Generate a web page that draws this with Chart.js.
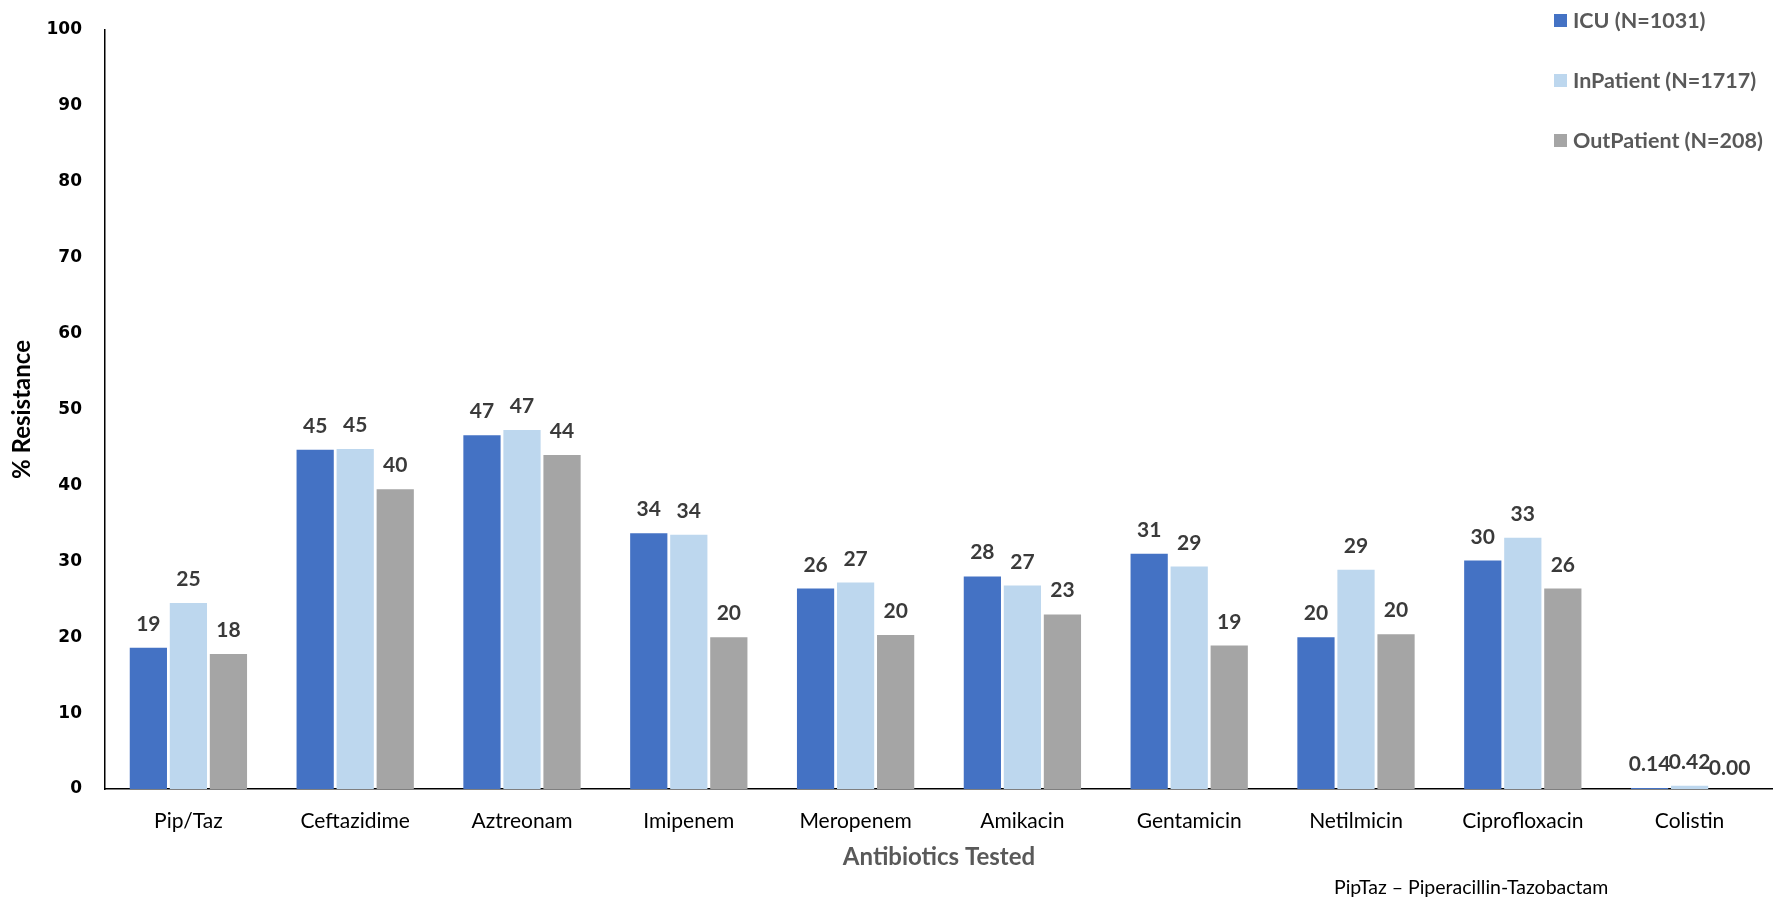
<!DOCTYPE html>
<html>
<head>
<meta charset="utf-8">
<script src="https://cdn.jsdelivr.net/npm/chart.js@4/dist/chart.umd.min.js"></script>
<style>
  html, body { margin: 0; padding: 0; background: #fff; }
  #wrap { position: relative; width: 1773px; height: 899px; }
  canvas { position: absolute; left: 0; top: 0; }
  #legend { position: absolute; left: 1554px; top: 6px; font-family: Lato, "Open Sans", sans-serif; font-weight: bold; font-size: 21.5px; color: #595959; }
  .li { display: flex; align-items: center; height: 28px; margin-bottom: 32px; white-space: nowrap; }
  .sw { width: 13px; height: 13px; margin-right: 6px; display: inline-block; }
  #note { position: absolute; left: 1334px; top: 875px; font-family: Lato, "Open Sans", sans-serif; font-size: 19.5px; color: #000; white-space: nowrap; }
</style>
</head>
<body>
<div id="wrap">
  <canvas id="c" width="1773" height="899"></canvas>
  <div id="legend"></div>
  <div id="note">PipTaz – Piperacillin-Tazobactam</div>
</div>
<script>
const categories = ["Pip/Taz", "Ceftazidime", "Aztreonam", "Imipenem", "Meropenem", "Amikacin", "Gentamicin", "Netilmicin", "Ciprofloxacin", "Colistin"];
const seriesNames = ["ICU (N=1031)", "InPatient (N=1717)", "OutPatient (N=208)"];
const icuValues = [18.6, 44.7, 46.6, 33.7, 26.4, 28.0, 31.0, 20.0, 30.1, 0.14];
const inpatientValues = [24.5, 44.8, 47.3, 33.5, 27.2, 26.8, 29.3, 28.9, 33.1, 0.42];
const outpatientValues = [17.8, 39.5, 44.0, 20.0, 20.3, 23.0, 18.9, 20.4, 26.4, 0.00];
const yTicks = [0, 10, 20, 30, 40, 50, 60, 70, 80, 90, 100];
const colors = ["#4472C4", "#BDD7EE", "#A5A5A5"];

const legendEl = document.getElementById('legend');
seriesNames.forEach((n, i) => {
  const d = document.createElement('div');
  d.className = 'li';
  d.innerHTML = '<span class="sw" style="background:' + colors[i] + '"></span><span>' + n + '</span>';
  legendEl.appendChild(d);
});

const labelPlugin = {
  id: 'barLabels',
  afterDatasetsDraw(chart) {
    const ctx = chart.ctx;
    ctx.save();
    ctx.font = 'bold 21px Lato, "Open Sans", sans-serif';
    ctx.fillStyle = '#3a3a3a';
    ctx.textAlign = 'center';
    ctx.textBaseline = 'alphabetic';
    chart.data.datasets.forEach((ds, di) => {
      const meta = chart.getDatasetMeta(di);
      meta.data.forEach((bar, i) => {
        const v = ds.data[i];
        const txt = v < 1 ? v.toFixed(2) : String(Math.round(v));
        const off = (v === 0) ? 14 : 17;
        ctx.fillText(txt, bar.x, bar.y - off);
      });
    });
    ctx.restore();
  }
};

const datasets = [icuValues, inpatientValues, outpatientValues].map((vals, i) => ({
  label: seriesNames[i],
  data: vals,
  backgroundColor: colors[i],
  borderWidth: 0,
  categoryPercentage: 0.72,
  barPercentage: 0.93
}));

new Chart(document.getElementById('c'), {
  type: 'bar',
  data: { labels: categories, datasets },
  options: {
    responsive: false,
    animation: false,
    layout: { padding: { top: 30, right: 0, bottom: 0, left: 0 } },
    plugins: { legend: { display: false }, tooltip: { enabled: false } },
    scales: {
      x: {
        grid: { display: false, drawTicks: false },
        border: { display: true, color: '#000', width: 1.5 },
        ticks: { color: '#000', font: { family: 'Lato, "Open Sans", sans-serif', size: 21 }, padding: 20, maxRotation: 0 },
        title: { display: true, text: 'Antibiotics Tested', color: '#595959', font: { family: 'Lato, "Open Sans", sans-serif', size: 24, weight: 'bold' }, padding: { top: 0, bottom: 27 } },
        afterFit(s) { s.height = 110; s.paddingLeft = 0; s.paddingRight = 0; }
      },
      y: {
        min: 0, max: 100,
        afterBuildTicks(s) { s.ticks = yTicks.map(v => ({ value: v })); },
        grid: { display: false, drawTicks: false },
        border: { display: true, color: '#000', width: 1.5 },
        ticks: { color: '#000', font: { family: '"DejaVu Sans", Verdana, sans-serif', size: 17, weight: 'bold' }, padding: 23 },
        title: { display: true, text: '% Resistance', color: '#000', font: { family: 'Lato, "Open Sans", sans-serif', size: 24, weight: 'bold' }, padding: { top: 8, bottom: 0 } },
        afterFit(s) { s.width = 105; s.paddingTop = 0; s.paddingBottom = 0; }
      }
    }
  },
  plugins: [labelPlugin]
});
</script>
</body>
</html>
